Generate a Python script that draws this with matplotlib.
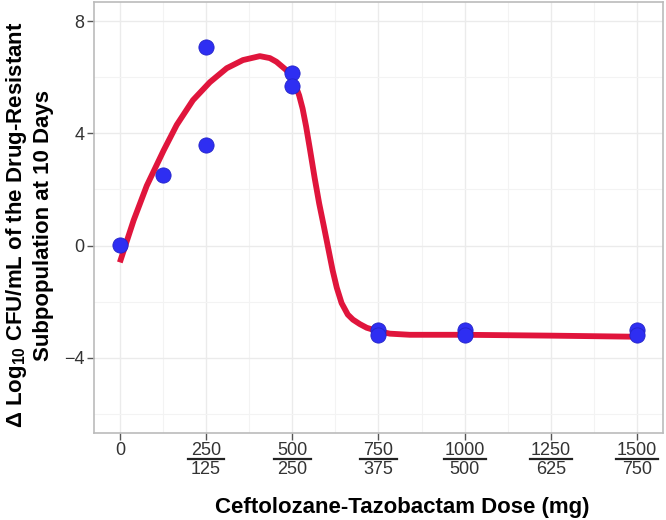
import matplotlib
matplotlib.use("Agg")
import matplotlib.pyplot as plt
from matplotlib.ticker import MultipleLocator

plt.rcParams['font.family'] = ['Liberation Sans', 'DejaVu Sans']
plt.rcParams['mathtext.default'] = 'regular'

# observed points (dose of ceftolozane, mg)
dose = [0, 125, 250, 250, 500, 500, 750, 750, 1000, 1000, 1500, 1500]
delta_log = [0.03, 2.5, 7.08, 3.6, 6.15, 5.7, -3.0, -3.2, -3.0, -3.2, -3.0, -3.2]

# fitted curve
curve_x = [0, 12, 40, 78, 127, 165, 212, 261, 310, 357, 406, 435, 454, 483,
           499, 510, 520, 530, 540, 551, 565, 578, 591, 603, 617, 629, 643,
           661, 676, 696, 716, 745, 783, 841, 1000, 1246, 1500]
curve_y = [-0.6, -0.15, 0.9, 2.13, 3.39, 4.3, 5.18, 5.82, 6.32, 6.61, 6.75,
           6.68, 6.55, 6.25, 5.93, 5.68, 5.35, 4.88, 4.25, 3.45, 2.4, 1.5,
           0.72, -0.02, -0.88, -1.5, -2.05, -2.46, -2.64, -2.8, -2.93, -3.04,
           -3.14, -3.18, -3.18, -3.21, -3.25]

tick_pos = [0, 250, 500, 750, 1000, 1250, 1500]
tick_top = ['0', '250', '500', '750', '1000', '1250', '1500']
tick_bottom = ['', '125', '250', '375', '500', '625', '750']

fig = plt.figure(figsize=(6.66, 5.2), dpi=100)
ax = fig.add_axes([0.1411, 0.1673, 0.8544, 0.8289])

ax.plot(curve_x, curve_y, color='#E0153C', lw=4.2, solid_joinstyle='round',
        solid_capstyle='butt', zorder=3)
ax.scatter(dose, delta_log, s=120, color='#2E2EF2', edgecolor='#2424C8',
           linewidth=0.6, zorder=4)

ax.set_xlim(-75, 1575)
ax.set_ylim(-6.68, 8.68)
ax.yaxis.set_major_locator(MultipleLocator(4))
ax.yaxis.set_minor_locator(MultipleLocator(2))
ax.xaxis.set_minor_locator(MultipleLocator(125))
ax.set_xticks(tick_pos)
ax.set_xticklabels([])
ax.grid(which='major', color='#EBEBEB', lw=1.0)
ax.grid(which='minor', color='#F3F3F3', lw=0.8)
ax.set_axisbelow(True)
ax.tick_params(which='minor', length=0)
ax.tick_params(which='major', length=5, width=1, color='#555555',
               labelsize=13, pad=2, labelcolor='#333333')
for s in ax.spines.values():
    s.set_color('#BBBBBB')
    s.set_linewidth(1.2)

# stacked dose labels (ceftolozane over tazobactam)
for x, top, bot in zip(tick_pos, tick_top, tick_bottom):
    ax.annotate(top, xy=(x, 0), xycoords=('data', 'axes fraction'),
                xytext=(0, -12.5), textcoords='offset points',
                ha='center', va='center', fontsize=13, color='#333333')
    if bot:
        half = 61 if len(top) > 3 else 53
        ax.plot([x - half, x + half], [-0.0603, -0.0603], color='#222222',
                lw=1.6, transform=ax.get_xaxis_transform(), clip_on=False)
        ax.annotate(bot, xy=(x, 0), xycoords=('data', 'axes fraction'),
                    xytext=(0, -26), textcoords='offset points',
                    ha='center', va='center', fontsize=13, color='#333333')

fig.text(0.604, 0.025, 'Ceftolozane-Tazobactam Dose (mg)', ha='center',
         va='center', fontsize=16, fontweight='bold')
fig.text(0.043, 0.567,
         r'$\Delta$ Log$_{10}$ CFU/mL of the Drug-Resistant' + '\nSubpopulation at 10 Days',
         rotation=90, ha='center', va='center', fontsize=16,
         fontweight='bold', linespacing=1.25)

fig.savefig('out.png', dpi=100)
